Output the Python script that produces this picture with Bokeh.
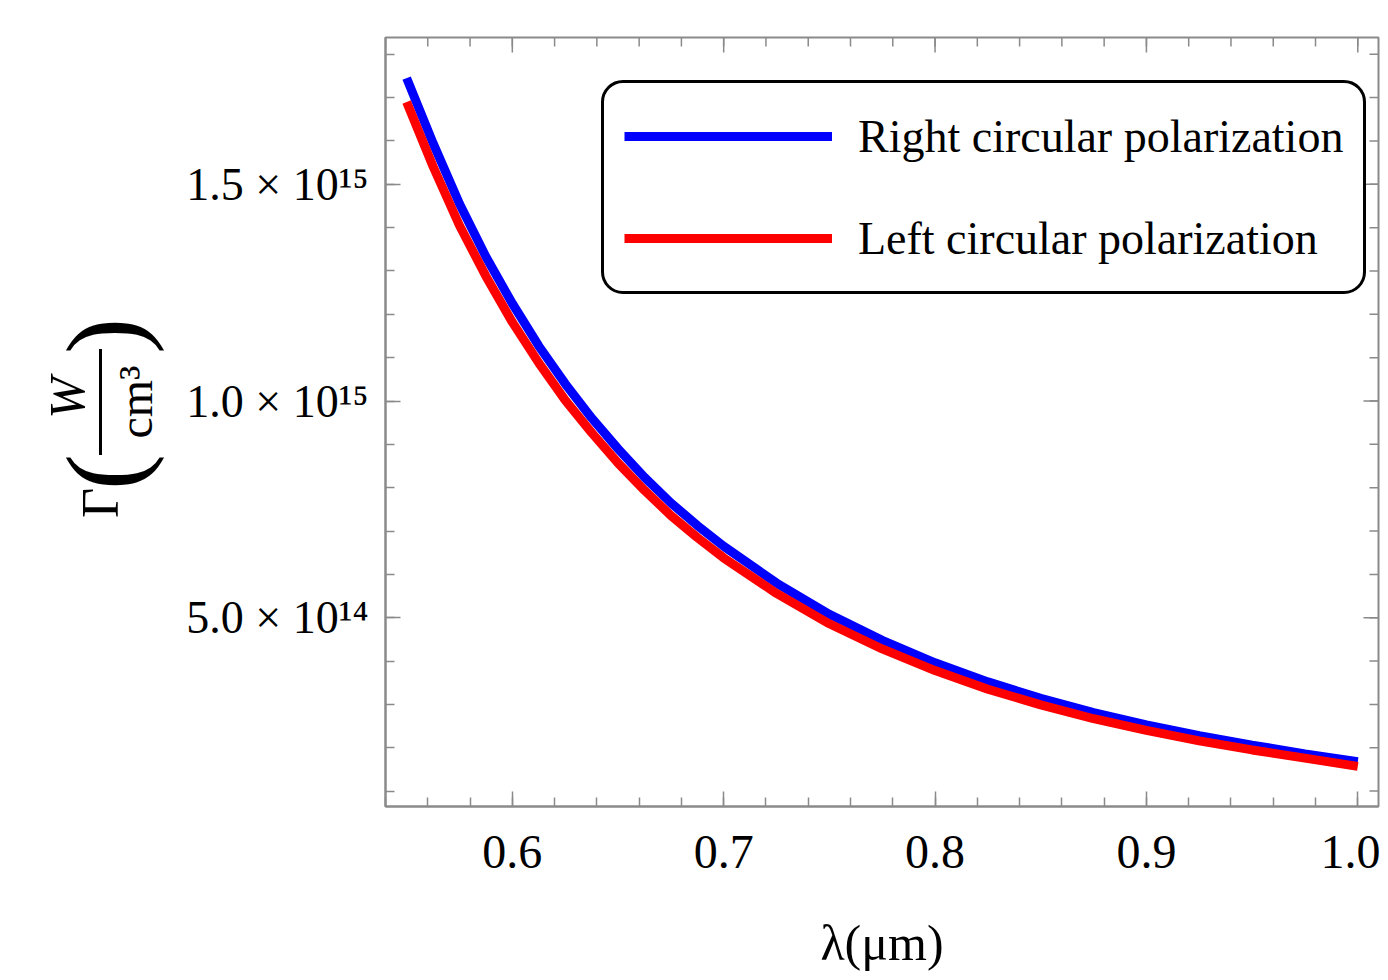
import math
from bokeh.plotting import figure
from bokeh.layouts import row
from bokeh.models import (Legend, LegendItem, FixedTicker, Label,
                          BoxAnnotation, Range1d, ColumnDataSource)
from bokeh.embed import file_html
from bokeh.resources import INLINE

# ---- data ----
wavelength = [0.55, 0.5625, 0.575, 0.5875, 0.60, 0.6125, 0.625, 0.6375, 0.65,
              0.6625, 0.675, 0.6875, 0.70, 0.725, 0.75, 0.775, 0.80, 0.825,
              0.85, 0.875, 0.90, 0.925, 0.95, 0.975, 1.00]
gamma_right = [1.745e15, 1.595e15, 1.455e15, 1.333e15, 1.225e15, 1.127e15,
               1.040e15, 0.961e15, 0.890e15, 0.824e15, 0.765e15, 0.713e15,
               0.665e15, 0.580e15, 0.508e15, 0.448e15, 0.396e15, 0.352e15,
               0.314e15, 0.281e15, 0.253e15, 0.228e15, 0.206e15, 0.186e15,
               0.168e15]
gamma_left = [1.690e15, 1.541e15, 1.405e15, 1.288e15, 1.182e15, 1.088e15,
              1.002e15, 0.927e15, 0.857e15, 0.794e15, 0.736e15, 0.685e15,
              0.638e15, 0.556e15, 0.486e15, 0.428e15, 0.378e15, 0.335e15,
              0.299e15, 0.267e15, 0.240e15, 0.216e15, 0.195e15, 0.176e15,
              0.157e15]
series_labels = ["Right circular polarization", "Left circular polarization"]
series_colors = ["#0000ff", "#ff0000"]

x_ticks = [0.6, 0.7, 0.8, 0.9, 1.0]
x_tick_labels = ["0.6", "0.7", "0.8", "0.9", "1.0"]
x_minor = [round(0.54 + 0.02 * i, 2) for i in range(24)]
y_ticks = [5.0e14, 1.0e15, 1.5e15]
y_tick_labels = ["5.0 × 10¹⁴", "1.0 × 10¹⁵", "1.5 × 10¹⁵"]
y_minor = [1e14 * i for i in range(1, 19)]
x_label = "λ(μm)"

X0, X1 = 0.54, 1.0098
Y0, Y1 = 0.645e14, 1.8387e15
FW, FH = 993, 769
LW = 170                      # width of the strip that holds the y label
BL, BT = 385 - LW, 37
PX = FW / (X1 - X0)
PY = FH / (Y1 - Y0)
TOTAL_H = 972
BB = TOTAL_H - BT - FH

SERIF = "Liberation Serif"
FRAME = "#8a8a8a"

p = figure(frame_width=FW, frame_height=FH, output_backend="svg",
           toolbar_location=None,
           x_range=Range1d(X0, X1), y_range=Range1d(Y0, Y1),
           min_border_left=BL, min_border_right=2, min_border_top=BT,
           min_border_bottom=BB)
p.xgrid.visible = False
p.ygrid.visible = False
p.outline_line_color = FRAME
p.outline_line_width = 2
p.outline_line_alpha = 1.0
p.background_fill_color = "white"
p.border_fill_color = "white"

src = ColumnDataSource(dict(x=wavelength, r=gamma_right, l=gamma_left))
r_blue = p.line("x", "r", source=src, line_color=series_colors[0], line_width=9)
r_red = p.line("x", "l", source=src, line_color=series_colors[1], line_width=9)

for ax, ticker in ((p.xaxis[0], FixedTicker(ticks=x_ticks, minor_ticks=x_minor)),
                   (p.yaxis[0], FixedTicker(ticks=y_ticks, minor_ticks=y_minor))):
    ax.ticker = ticker
    ax.axis_line_color = FRAME
    ax.axis_line_width = 2
    ax.major_tick_line_color = FRAME
    ax.minor_tick_line_color = FRAME
    ax.major_tick_line_width = 1.5
    ax.minor_tick_line_width = 1.5
    ax.major_tick_in = 15
    ax.major_tick_out = 0
    ax.minor_tick_in = 9
    ax.minor_tick_out = 0
    ax.major_label_text_font = SERIF
    ax.major_label_text_color = "black"
p.xaxis[0].major_label_overrides = {t: s for t, s in zip(x_ticks, x_tick_labels)}
p.yaxis[0].major_label_overrides = {t: s for t, s in zip(y_ticks, y_tick_labels)}
p.xaxis[0].major_label_text_font_size = "48px"
p.yaxis[0].major_label_text_font_size = "46px"
p.xaxis[0].major_label_standoff = 29
p.yaxis[0].major_label_standoff = 17
p.xaxis[0].axis_label = x_label
p.xaxis[0].axis_label_text_font = SERIF
p.xaxis[0].axis_label_text_font_style = "normal"
p.xaxis[0].axis_label_text_font_size = "50px"
p.xaxis[0].axis_label_text_color = "black"
p.xaxis[0].axis_label_standoff = 44

# ticks on the top and right frame edges (Mathematica-style frame ticks)
tick_kw = dict(line_color=FRAME, line_width=1.5)
p.segment(x0=x_ticks, x1=x_ticks, y0=[Y1] * len(x_ticks),
          y1=[Y1 - 15 / PY] * len(x_ticks), **tick_kw)
p.segment(x0=x_minor, x1=x_minor, y0=[Y1] * len(x_minor),
          y1=[Y1 - 9 / PY] * len(x_minor), **tick_kw)
p.segment(x0=[X1] * len(y_ticks), x1=[X1 - 15 / PX] * len(y_ticks),
          y0=y_ticks, y1=y_ticks, **tick_kw)
p.segment(x0=[X1] * len(y_minor), x1=[X1 - 9 / PX] * len(y_minor),
          y0=y_minor, y1=y_minor, **tick_kw)

legend = Legend(items=[LegendItem(label=series_labels[0], renderers=[r_blue]),
                       LegendItem(label=series_labels[1], renderers=[r_red])],
                location=(216, 512))
legend.label_text_font = SERIF
legend.label_text_font_size = "46px"
legend.label_text_color = "black"
legend.glyph_width = 208
legend.glyph_height = 66
legend.label_height = 66
legend.label_standoff = 26
legend.spacing = 36
legend.padding = 20
legend.margin = 0
legend.border_line_color = "black"
legend.border_line_width = 3
legend.border_line_alpha = 1.0
legend.background_fill_color = "white"
legend.background_fill_alpha = 1.0
if "border_radius" in Legend.properties():
    legend.border_radius = 22
p.add_layout(legend, "center")

# ---- strip on the left carrying the y-axis title  Γ( W / cm³ ) ----
# (its frame is aligned with the main frame by the row layout, so the
#  y range spans the same vertical pixels: value = TOTAL_H - page_y)
ylab_fig = figure(width=LW, height=TOTAL_H, output_backend="svg",
                  toolbar_location=None, x_axis_type=None, y_axis_type=None,
                  x_range=Range1d(0, LW), y_range=Range1d(BB, TOTAL_H - BT),
                  min_border_left=0, min_border_right=0,
                  min_border_top=BT, min_border_bottom=BB)
ylab_fig.outline_line_color = None
ylab_fig.grid.visible = False
ylab_fig.background_fill_color = "white"
ylab_fig.border_fill_color = "white"


def ylab(text, px, py, size, style="normal"):
    ylab_fig.add_layout(Label(x=px, y=TOTAL_H - py, text=text,
                              angle=math.pi / 2, text_font=SERIF,
                              text_font_size=size, text_font_style=style,
                              text_align="center", text_baseline="middle",
                              text_color="black"))


ylab("Γ", 100, 503, "52px")
ylab("(", 104, 472, "108px")
ylab(")", 104, 336, "108px")
ylab("W", 66, 398, "50px", "italic")
ylab("cm³", 135, 402, "48px")
ylab_fig.add_layout(BoxAnnotation(left=98.5, right=101.5,
                                  bottom=TOTAL_H - 455, top=TOTAL_H - 349,
                                  fill_color="black", fill_alpha=1.0,
                                  line_color=None))

layout = row(ylab_fig, p)
open("out.html", "w").write(file_html(layout, INLINE))
